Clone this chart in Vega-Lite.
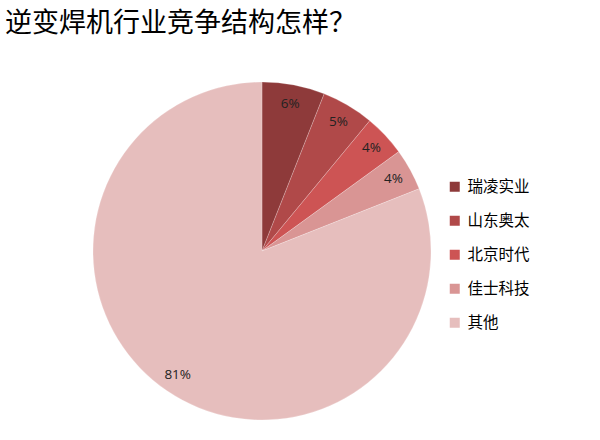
{
  "$schema": "https://vega.github.io/schema/vega-lite/v6.json",
  "autosize": "none",
  "width": 338,
  "height": 338,
  "padding": {"left": 93, "top": 82, "right": 169, "bottom": 20},
  "title": {
    "text": "逆变焊机行业竞争结构怎样？",
    "anchor": "start",
    "frame": "group",
    "dx": -88,
    "offset": 43,
    "font": "Noto Sans CJK SC",
    "fontSize": 27,
    "fontWeight": "normal",
    "color": "#000000"
  },
  "data": {
    "values": [
      {"company": "瑞凌实业", "share": 0.06, "rank": 1},
      {"company": "山东奥太", "share": 0.05, "rank": 2},
      {"company": "北京时代", "share": 0.04, "rank": 3},
      {"company": "佳士科技", "share": 0.04, "rank": 4},
      {"company": "其他", "share": 0.81, "rank": 5}
    ]
  },
  "encoding": {
    "theta": {"field": "share", "type": "quantitative", "stack": true},
    "order": {"field": "rank", "type": "quantitative"},
    "color": {
      "field": "company",
      "type": "nominal",
      "sort": ["瑞凌实业", "山东奥太", "北京时代", "佳士科技", "其他"],
      "scale": {
        "domain": ["瑞凌实业", "山东奥太", "北京时代", "佳士科技", "其他"],
        "range": ["#8e3a3a", "#b04949", "#cd5454", "#d99594", "#e6bebd"]
      },
      "legend": {
        "title": null,
        "orient": "none",
        "legendX": 354,
        "legendY": 97,
        "symbolType": "square",
        "symbolSize": 100,
        "symbolStrokeWidth": 0,
        "labelFont": "Noto Sans CJK SC",
        "labelFontSize": 15.5,
        "labelColor": "#000000",
        "labelOffset": 5,
        "rowPadding": 17
      }
    }
  },
  "layer": [
    {
      "mark": {"type": "arc", "outerRadius": 169, "stroke": "#ffffff", "strokeWidth": 0.3, "strokeOpacity": 0.7}
    },
    {
      "mark": {"type": "text", "radius": 150, "font": "Open Sans", "fontSize": 13.5, "color": "#222222"},
      "encoding": {
        "text": {"field": "share", "type": "quantitative", "format": ".0%"},
        "color": {"value": "#222222"}
      }
    }
  ],
  "config": {
    "view": {"stroke": null}
  }
}
